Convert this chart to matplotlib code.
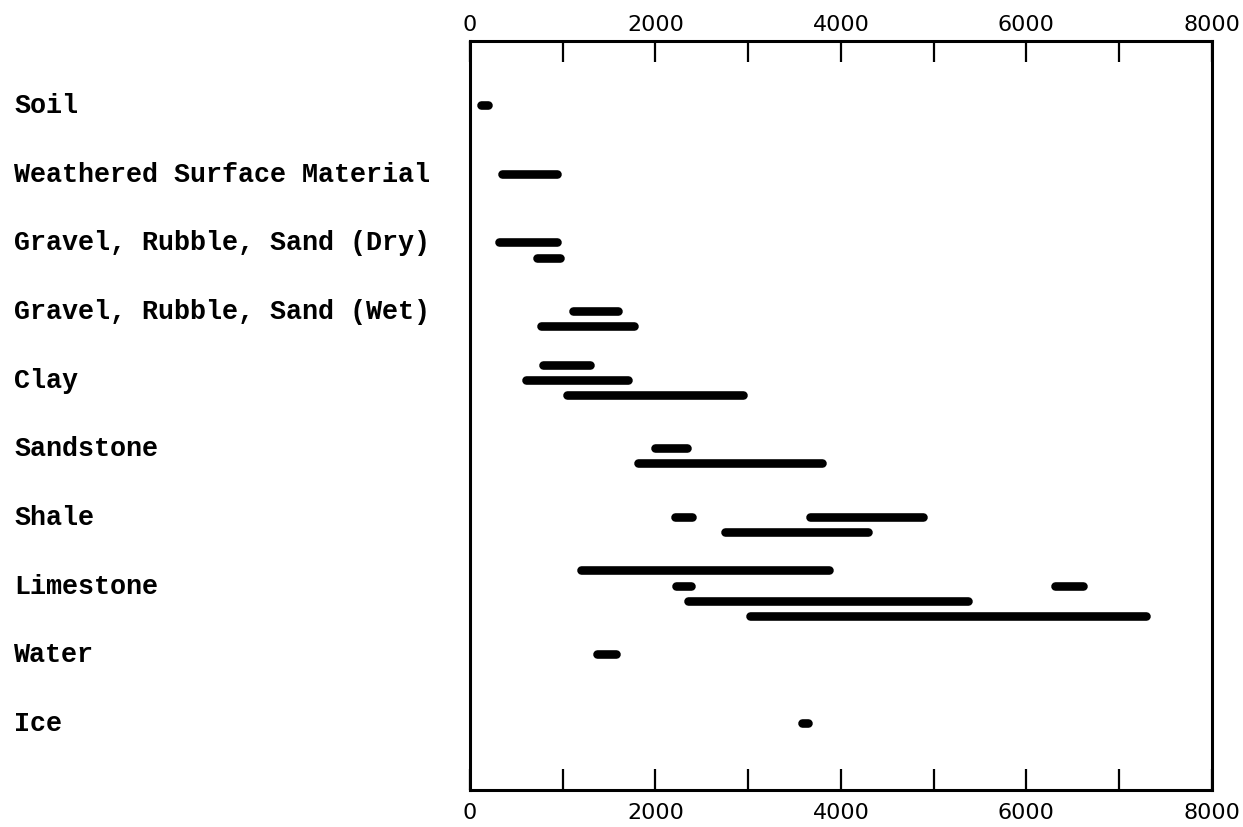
import matplotlib
matplotlib.use('Agg')
from matplotlib import pyplot as plt
from matplotlib import transforms

# material names, top to bottom
materials = ['Soil', 'Weathered Surface Material', 'Gravel, Rubble, Sand (Dry)',
             'Gravel, Rubble, Sand (Wet)', 'Clay', 'Sandstone', 'Shale',
             'Limestone', 'Water', 'Ice']

# velocity ranges: which material, sub-lane inside the row, low, high
bar_row = [0, 1, 2, 2, 3, 3, 4, 4, 4, 5, 5, 6, 6, 6,
           7, 7, 7, 7, 7, 8, 9]
bar_lane = [0, 0, 0, 1, 0, 1, -1, 0, 1, 0, 1, 0, 0, 1,
            -1, 0, 0, 1, 2, 0, 0]
bar_low = [120, 350, 310, 720, 1110, 770, 790, 610, 1050, 2000, 1810,
           2210, 3670, 2750, 1200, 2220, 6310, 2350, 3020, 1370, 3580]
bar_high = [200, 940, 940, 970, 1600, 1770, 1290, 1700, 2940, 2340, 3800,
            2400, 4890, 4290, 3870, 2380, 6610, 5370, 7290, 1580, 3650]

x_major = [0, 2000, 4000, 6000, 8000]
x_minor = [1000, 3000, 5000, 7000]

fig = plt.figure(figsize=(12.43, 8.28), dpi=100)
ax = fig.add_axes([0.378, 0.045, 0.597, 0.904])

# each bar drawn as a thick line with rounded ends
for r, ln, lo, hi in zip(bar_row, bar_lane, bar_low, bar_high):
    y = r + ln * 0.22
    ax.plot([lo, hi], [y, y], color='black', lw=6.2, solid_capstyle='round')

ax.set_xlim(0, 8000)
ax.set_ylim(9.976, -0.932)

ax.set_xticks(x_major)
ax.set_xticks(x_minor, minor=True)
ax.set_xticklabels([str(v) for v in x_major], fontsize=16, family='DejaVu Sans')
ax.tick_params(axis='x', which='both', direction='in', length=15, width=1.6,
               top=True, labeltop=True, bottom=True, labelbottom=True)
ax.tick_params(axis='x', which='major', pad=9)
ax.set_yticks([])

# top labels sit a bit closer to the frame
shift = transforms.ScaledTranslation(0, -5 / 100, fig.dpi_scale_trans)
for t in ax.xaxis.get_major_ticks():
    t.label2.set_transform(t.label2.get_transform() + shift)

for s in ax.spines.values():
    s.set_linewidth(2.2)

# material labels, left aligned at the figure edge
trans = transforms.blended_transform_factory(fig.transFigure, ax.transData)
for i, name in enumerate(materials):
    ax.text(14 / 1243, i, name, transform=trans, ha='left', va='center',
            fontsize=19.3, family='Liberation Mono', fontweight='bold',
            clip_on=False)

plt.savefig('out.png', dpi=100)
